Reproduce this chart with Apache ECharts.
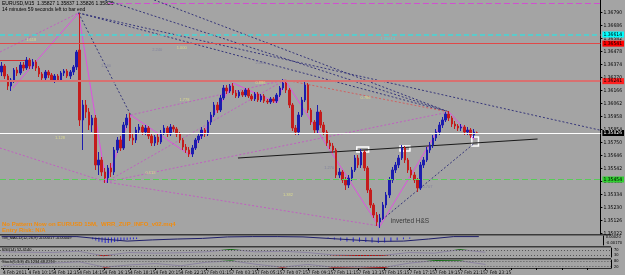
<!DOCTYPE html>
<html><head><meta charset="utf-8">
<script src="https://cdn.jsdelivr.net/npm/echarts@6/dist/echarts.min.js"></script>
<style>html,body{margin:0;padding:0;background:#a4a4a4;overflow:hidden}#c{width:625px;height:275px}</style>
</head><body><div id="c"></div><script>
// ---- data (EURUSD M15) ----
const timeLabels = ['4 Feb 2011','4 Feb 10:15','4 Feb 12:15','4 Feb 14:15','4 Feb 16:15','4 Feb 18:15','4 Feb 20:15','4 Feb 22:15','7 Feb 01:15','7 Feb 03:15','7 Feb 05:15','7 Feb 07:15','7 Feb 09:15','7 Feb 11:15','7 Feb 13:15','7 Feb 15:15','7 Feb 17:15','7 Feb 19:15','7 Feb 21:15','7 Feb 23:15'];
const priceTicks = [1.36790,1.36686,1.36582,1.36478,1.36374,1.36270,1.36166,1.36062,1.35958,1.35854,1.35750,1.35646,1.35542,1.35438,1.35334,1.35230,1.35126,1.35022];
const openP = [1.36314,1.36362,1.36282,1.36202,1.36250,1.36330,1.36306,1.36370,1.36346,1.36410,
1.36362,1.36394,1.36346,1.36298,1.36266,1.36314,1.36290,1.36250,1.36282,1.36250,
1.36306,1.36322,1.36282,1.36314,1.36354,1.36490,1.35930,1.36050,1.35994,1.35890,
1.35946,1.35570,1.35610,1.35514,1.35466,1.35546,1.35514,1.35690,1.35770,1.35706,
1.35890,1.35946,1.35786,1.35770,1.35850,1.35874,1.35834,1.35866,1.35802,1.35746,
1.35794,1.35754,1.35826,1.35866,1.35818,1.35874,1.35858,1.35818,1.35770,1.35714,
1.35690,1.35658,1.35706,1.35770,1.35802,1.35850,1.35818,1.35914,1.35970,1.36050,
1.36010,1.36106,1.36186,1.36162,1.36202,1.36146,1.36122,1.36154,1.36130,1.36170,
1.36122,1.36098,1.36138,1.36090,1.36122,1.36082,1.36074,1.36098,1.36082,1.36130,
1.36186,1.36226,1.36170,1.36050,1.35866,1.35834,1.35970,1.36090,1.36210,1.36010,
1.35914,1.35850,1.35994,1.35890,1.35834,1.35746,1.35722,1.35690,1.35490,1.35514,
1.35450,1.35410,1.35466,1.35530,1.35626,1.35570,1.35674,1.35546,1.35370,1.35250,
1.35170,1.35114,1.35146,1.35250,1.35330,1.35450,1.35530,1.35570,1.35626,1.35706,
1.35610,1.35530,1.35490,1.35450,1.35386,1.35570,1.35610,1.35690,1.35730,1.35786,
1.35834,1.35890,1.35930,1.35978,1.35946,1.35898,1.35882,1.35866,1.35874,1.35834,
1.35850,1.35810,1.35827];
const closeP = [1.36362,1.36282,1.36202,1.36250,1.36330,1.36306,1.36370,1.36346,1.36410,1.36362,
1.36394,1.36346,1.36298,1.36266,1.36314,1.36290,1.36250,1.36282,1.36250,1.36306,
1.36322,1.36282,1.36314,1.36354,1.36474,1.35930,1.36050,1.35994,1.35890,1.35946,
1.35570,1.35610,1.35514,1.35466,1.35546,1.35514,1.35690,1.35770,1.35706,1.35890,
1.35946,1.35786,1.35770,1.35850,1.35874,1.35834,1.35866,1.35802,1.35746,1.35794,
1.35754,1.35826,1.35866,1.35818,1.35874,1.35858,1.35818,1.35770,1.35714,1.35690,
1.35658,1.35706,1.35770,1.35802,1.35850,1.35818,1.35914,1.35970,1.36050,1.36010,
1.36106,1.36186,1.36162,1.36202,1.36146,1.36122,1.36154,1.36130,1.36170,1.36122,
1.36098,1.36138,1.36090,1.36122,1.36082,1.36074,1.36098,1.36082,1.36130,1.36186,
1.36226,1.36170,1.36050,1.35866,1.35834,1.35970,1.36090,1.36210,1.36010,1.35914,
1.35850,1.35994,1.35890,1.35834,1.35746,1.35722,1.35690,1.35490,1.35514,1.35450,
1.35410,1.35466,1.35530,1.35626,1.35570,1.35674,1.35546,1.35370,1.35250,1.35170,
1.35114,1.35146,1.35250,1.35330,1.35450,1.35530,1.35570,1.35626,1.35706,1.35610,
1.35530,1.35490,1.35450,1.35386,1.35570,1.35610,1.35690,1.35730,1.35786,1.35834,
1.35890,1.35930,1.35978,1.35946,1.35898,1.35882,1.35866,1.35874,1.35834,1.35850,
1.35810,1.35834,1.35826];
const lowP = [1.36282,1.36258,1.36170,1.36162,1.36226,1.36282,1.36290,1.36322,1.36330,1.36338,
1.36338,1.36322,1.36274,1.36242,1.36250,1.36266,1.36234,1.36226,1.36234,1.36234,
1.36282,1.36266,1.36258,1.36290,1.36330,1.35882,1.35690,1.35946,1.35850,1.35834,
1.35530,1.35490,1.35482,1.35426,1.35426,1.35474,1.35490,1.35666,1.35682,1.35690,
1.35866,1.35762,1.35730,1.35746,1.35826,1.35810,1.35810,1.35778,1.35722,1.35722,
1.35730,1.35738,1.35810,1.35794,1.35802,1.35834,1.35794,1.35746,1.35690,1.35666,
1.35634,1.35634,1.35690,1.35746,1.35778,1.35794,1.35802,1.35890,1.35954,1.35986,
1.35994,1.36090,1.36138,1.36146,1.36130,1.36106,1.36106,1.36114,1.36114,1.36106,
1.36082,1.36082,1.36074,1.36074,1.36066,1.36058,1.36058,1.36066,1.36066,1.36114,
1.36170,1.36146,1.36026,1.35842,1.35810,1.35810,1.35954,1.36074,1.35986,1.35890,
1.35818,1.35826,1.35866,1.35810,1.35722,1.35698,1.35666,1.35466,1.35466,1.35426,
1.35370,1.35386,1.35442,1.35514,1.35546,1.35546,1.35522,1.35346,1.35226,1.35146,
1.35082,1.35066,1.35130,1.35226,1.35306,1.35426,1.35506,1.35546,1.35610,1.35586,
1.35506,1.35466,1.35426,1.35354,1.35370,1.35546,1.35594,1.35666,1.35706,1.35762,
1.35810,1.35866,1.35914,1.35922,1.35874,1.35858,1.35842,1.35842,1.35810,1.35810,
1.35786,1.35786,1.35826];
const highP = [1.36394,1.36378,1.36298,1.36266,1.36346,1.36354,1.36394,1.36394,1.36434,1.36426,
1.36418,1.36410,1.36362,1.36314,1.36330,1.36330,1.36306,1.36298,1.36298,1.36322,
1.36338,1.36338,1.36330,1.36370,1.36490,1.36786,1.36090,1.36090,1.36026,1.35970,
1.35970,1.35674,1.35634,1.35546,1.35570,1.35586,1.35714,1.35794,1.35802,1.35914,
1.35978,1.35986,1.35818,1.35874,1.35898,1.35890,1.35890,1.35882,1.35818,1.35810,
1.35818,1.35850,1.35890,1.35882,1.35898,1.35890,1.35874,1.35834,1.35786,1.35738,
1.35714,1.35730,1.35786,1.35826,1.35874,1.35866,1.35930,1.35994,1.36074,1.36074,
1.36130,1.36210,1.36210,1.36218,1.36226,1.36170,1.36170,1.36170,1.36186,1.36186,
1.36138,1.36154,1.36154,1.36138,1.36138,1.36098,1.36114,1.36114,1.36146,1.36202,
1.36258,1.36242,1.36186,1.36066,1.35890,1.35994,1.36114,1.36250,1.36226,1.36026,
1.35930,1.36050,1.36010,1.35914,1.35850,1.35770,1.35746,1.35706,1.35546,1.35530,
1.35474,1.35490,1.35554,1.35650,1.35650,1.35698,1.35690,1.35562,1.35386,1.35266,
1.35194,1.35178,1.35274,1.35354,1.35474,1.35554,1.35594,1.35650,1.35730,1.35722,
1.35626,1.35554,1.35514,1.35466,1.35594,1.35634,1.35714,1.35754,1.35810,1.35858,
1.35914,1.35954,1.35994,1.36002,1.35962,1.35922,1.35898,1.35898,1.35890,1.35874,
1.35866,1.35858,1.35837];
// horizontal level lines (price)
const levelPP = 1.36866, levelCyan = 1.36614, levelRed1 = 1.36541, levelRed2 = 1.36241, levelWhite = 1.35826, levelGreen = 1.35454;
const ppStartIdx = 34;
// zigzag pivots (bar index, price)
const zigzagIdx = [3.6, 24.6, 33.4, 41.3, 60.2, 74.0, 88.1, 90.6, 120.8, 143.1, 151.3];
const zigzagPrice = [1.36186, 1.36786, 1.35434, 1.35970, 1.35650, 1.36226, 1.36066, 1.36250, 1.35074, 1.35994, 1.35770];
// trend lines: [idx1, price1, idx2, price2]
const navyLines = [[24.6,1.36786,143.1,1.35994],[33.1,1.36890,143.1,1.35994],[48.8,1.36890,143.1,1.35994],[24.6,1.36786,191.2,1.35850],[24.6,1.36786,41.3,1.35970],[120.8,1.35114,151.3,1.35746]];
const pinkLines = [[-0.5,1.36474,24.6,1.36786],[-0.5,1.35706,33.4,1.35434],[33.4,1.35434,90.6,1.36250],[33.4,1.35434,120.8,1.35082],[41.3,1.35970,90.6,1.36250],[33.4,1.35434,143.1,1.35994]];
const salmonLines = [[90.6,1.36250,143.1,1.35994]];
const redMarker = [[-0.5,1.36410,8.0,1.36410],[8.0,1.36410,8.0,1.36370]];
const neckline = [75.6,1.35626,171.4,1.35778];
const boxes = [[113.6,1.35714,117.4,1.35674],[127.4,1.35722,130.6,1.35682],[150.4,1.35794,152.5,1.35722]];
// small ratio labels on the pattern lines: [idx, price, text]
const ratioLabels = [[9.5,1.36570,'1.618'],[57.6,1.36506,'1.000'],[58.5,1.36090,'1.778'],[18.7,1.35786,'1.128'],[47.6,1.35506,'0.618'],[82.8,1.36226,'0.886'],[116.4,1.36106,'0.786'],[91.6,1.35330,'1.382']];
const grayLabels = [[49.8,1.36490,'2.240'],[33.4,1.36362,'1.440'],[82.8,1.36386,'2.000'],[104.8,1.35546,'1.270'],[136.2,1.35394,'0.707']];
const cyanLabels = [[123.5,1.36580,'1.36614']];
// indicators sampled every 8 bars
const indIdx = [0,8,16,24,32,40,48,56,64,72,80,88,96,104,112,120,128,136,144,152];
const macdSignal = [0.0003,0.0003,0.0003,0.0003,-0.0005,-0.0012,-0.0008,-0.0005,-0.0003,0.0002,0.0003,0.0003,0.0002,-0.0003,-0.0008,-0.0013,-0.0012,-0.0005,0.0003,0.0003];
const macdHistIdx = [29,30,31,32,33,34,35,36,37,38,39,40,41,42,43,104,106,108,110,112,114,116,118,120,122,124,126,128,130];
const macdHistVal = [-0.0006,-0.0010,-0.0014,-0.0016,-0.0018,-0.0018,-0.0017,-0.0015,-0.0013,-0.0011,-0.0009,-0.0008,-0.0007,-0.0006,-0.0005,-0.0003,-0.0007,-0.0011,-0.0013,-0.0015,-0.0014,-0.0015,-0.0017,-0.0018,-0.0017,-0.0013,-0.0009,-0.0006,-0.0004];
const rsiVals = [55,52,50,60,25,50,45,48,55,73,55,60,50,32,27,28,50,45,72,52];
const stochVals = [35,50,60,75,15,40,55,30,70,85,45,15,45,15,20,12,60,88,85,45];

// ---- chart ----
const chart = echarts.init(document.getElementById('c'), null, {renderer: 'canvas'});
const N = 192;
const categories = Array.from({length: N}, (_, k) => (k % 8 === 0 && k / 8 < timeLabels.length) ? timeLabels[k / 8] : '');
const candleData = openP.map((o, i) => [o, closeP[i], lowP[i], highP[i]]);
const FONT = 'Liberation Sans';
const NARROW = "'Liberation Sans Narrow','DejaVu Sans Condensed','Liberation Sans'";
const seg = arr => arr.map(s => ({coords: [[s[0], s[1]], [s[2], s[3]]]}));
const pairs = (xs, ys) => xs.map((x, i) => [x, ys[i]]);

function lvl(v, color, type, width, boxColor, txtColor) {
  return {yAxis: v, lineStyle: {color: color, type: type, width: width, opacity: width > 0 ? 1 : 0},
    label: {show: true, position: 'end', distance: 2, formatter: v.toFixed(5), color: txtColor, backgroundColor: boxColor, fontSize: 5, fontFamily: NARROW, padding: [1, 2, 0, 1]}};
}
function textPts(arr, color) {
  return arr.map(t => ({value: [t[0], t[1]], label: {show: true, position: 'inside', formatter: t[2], color: color, fontSize: 4, fontFamily: FONT}}));
}

const option = {
  backgroundColor: '#a4a4a4',
  animation: false,
  grid: [
    {left: 0, right: 14, top: 0, height: 234},
    {left: 0, right: 14, top: 236, height: 9},
    {left: 0, right: 14, top: 248, height: 9},
    {left: 0, right: 14, top: 260, height: 8}
  ],
  xAxis: [
    {type: 'category', gridIndex: 0, data: categories, boundaryGap: true, axisLine: {show: false}, axisTick: {show: false}, axisLabel: {show: false}, splitLine: {show: false}},
    {type: 'value', gridIndex: 0, min: -0.5, max: N - 0.5, show: false},
    {type: 'value', gridIndex: 1, min: -0.5, max: N - 0.5, show: false},
    {type: 'value', gridIndex: 2, min: -0.5, max: N - 0.5, show: false},
    {type: 'value', gridIndex: 3, min: -0.5, max: N - 0.5, show: false},
    {type: 'category', gridIndex: 3, data: categories, boundaryGap: true, position: 'bottom',
      axisLine: {show: true, lineStyle: {color: '#2a2a2a', width: 1}},
      axisTick: {show: true, interval: 7, alignWithLabel: true, length: 2, lineStyle: {color: '#000'}},
      axisLabel: {show: true, interval: 7, align: 'left', margin: 2, fontSize: 4.8, fontFamily: NARROW, color: '#000'}}
  ],
  yAxis: [
    {type: 'value', gridIndex: 0, position: 'right', min: 1.35018, max: 1.36890,
      axisLine: {show: true, onZero: false, lineStyle: {color: '#000'}},
      axisTick: {show: true, length: 2, customValues: priceTicks, lineStyle: {color: '#000'}},
      axisLabel: {show: true, customValues: priceTicks, fontSize: 5, fontFamily: NARROW, color: '#000', margin: 3, formatter: v => v.toFixed(5)},
      splitLine: {show: false}},
    {type: 'value', gridIndex: 1, position: 'right', min: -0.0025, max: 0.0005,
      axisLine: {show: true, onZero: false, lineStyle: {color: '#000'}}, axisTick: {show: false},
      axisLabel: {show: true, customValues: [0.0002, -0.0017], fontSize: 4, fontFamily: NARROW, color: '#000', margin: 3, formatter: v => v.toFixed(5)}, splitLine: {show: false}},
    {type: 'value', gridIndex: 2, position: 'right', min: 15, max: 85,
      axisLine: {show: true, onZero: false, lineStyle: {color: '#000'}}, axisTick: {show: false},
      axisLabel: {show: true, customValues: [70, 30], fontSize: 4, fontFamily: NARROW, color: '#000', margin: 3}, splitLine: {show: false}},
    {type: 'value', gridIndex: 3, position: 'right', min: 5, max: 95,
      axisLine: {show: true, onZero: false, lineStyle: {color: '#000'}}, axisTick: {show: false},
      axisLabel: {show: true, customValues: [80, 20], fontSize: 4, fontFamily: NARROW, color: '#000', margin: 3}, splitLine: {show: false}}
  ],
  visualMap: [
    {show: false, type: 'piecewise', seriesIndex: 10, dimension: 1, pieces: [{lt: 30, color: '#b00000'}, {gte: 30, lte: 70, color: '#8c84a0'}, {gt: 70, color: '#006400'}]},
    {show: false, type: 'piecewise', seriesIndex: 11, dimension: 1, pieces: [{lt: 20, color: '#b00000'}, {gte: 20, lte: 80, color: '#8c84a0'}, {gt: 80, color: '#006400'}]}
  ],
  series: [
    // 0 PP dashed segment + small red marker
    {type: 'lines', coordinateSystem: 'cartesian2d', xAxisIndex: 1, yAxisIndex: 0, silent: true,
      lineStyle: {color: '#d050d0', width: 1, type: [6, 3], opacity: 1},
      data: seg([[ppStartIdx, levelPP, N - 0.5, levelPP]]).concat(seg(redMarker).map(d => Object.assign(d, {lineStyle: {color: '#d03030', type: 'solid', width: 1}})))},
    // 1 pink dotted
    {type: 'lines', coordinateSystem: 'cartesian2d', xAxisIndex: 1, yAxisIndex: 0, silent: true,
      lineStyle: {color: '#c060c0', width: 1, type: [2, 2], opacity: 1}, data: seg(pinkLines)},
    // 2 navy dotted
    {type: 'lines', coordinateSystem: 'cartesian2d', xAxisIndex: 1, yAxisIndex: 0, silent: true,
      lineStyle: {color: '#36367a', width: 1, type: [2, 2], opacity: 1}, data: seg(navyLines)},
    // 3 salmon dotted
    {type: 'lines', coordinateSystem: 'cartesian2d', xAxisIndex: 1, yAxisIndex: 0, silent: true,
      lineStyle: {color: '#d06060', width: 1, type: [2, 2], opacity: 1}, data: seg(salmonLines)},
    // 4 neckline
    {type: 'lines', coordinateSystem: 'cartesian2d', xAxisIndex: 1, yAxisIndex: 0, silent: true,
      lineStyle: {color: '#1a1a1a', width: 1.2, opacity: 1}, data: seg([neckline])},
    // 5 zigzag + level lines
    {type: 'line', xAxisIndex: 1, yAxisIndex: 0, data: pairs(zigzagIdx, zigzagPrice), symbol: 'none', silent: true,
      lineStyle: {color: '#e050e0', width: 1}, z: 1,
      markLine: {symbol: 'none', silent: true, animation: false, precision: 5, data: [
        lvl(levelPP, '#d050d0', 'solid', 0, '#e040e0', '#000'),
        lvl(levelCyan, '#40d8d8', [5, 3], 1.5, '#00ffff', '#000'),
        lvl(levelRed1, '#e04848', 'solid', 1.2, '#ff0000', '#000'),
        lvl(levelRed2, '#d87070', 'solid', 2, '#ff2020', '#000'),
        lvl(levelWhite, '#ffffff', 'solid', 1.2, '#000000', '#fff'),
        lvl(levelGreen, '#58cc58', [6, 3], 1, '#30d030', '#000')
      ]}},
    // 6 candles
    {type: 'candlestick', xAxisIndex: 0, yAxisIndex: 0, data: candleData, barWidth: 2, z: 3,
      itemStyle: {color: '#1c1cae', color0: '#c41c1c', borderColor: '#1c1cae', borderColor0: '#c41c1c', borderWidth: 1}},
    // 7 boxes
    {type: 'scatter', xAxisIndex: 1, yAxisIndex: 0, data: [[0, 1.36]], symbolSize: 0, silent: true,
      markArea: {silent: true, itemStyle: {color: 'rgba(0,0,0,0)', borderColor: '#ffffff', borderWidth: 1.5},
        data: boxes.map(b => [{coord: [b[0], b[1]]}, {coord: [b[2], b[3]]}])}},
    // 8 macd histogram
    {type: 'bar', xAxisIndex: 2, yAxisIndex: 1, data: pairs(macdHistIdx, macdHistVal), barWidth: 1, itemStyle: {color: '#2a2ad0'}},
    // 9 macd signal
    {type: 'line', xAxisIndex: 2, yAxisIndex: 1, data: pairs(indIdx, macdSignal), symbol: 'none', lineStyle: {color: '#20206a', width: 1}},
    // 10 rsi
    {type: 'line', xAxisIndex: 3, yAxisIndex: 2, data: pairs(indIdx, rsiVals), symbol: 'none', lineStyle: {width: 1},
      markLine: {symbol: 'none', silent: true, label: {show: false}, lineStyle: {color: '#555', type: [1, 2], width: 1}, data: [{yAxis: 70}, {yAxis: 30}]}},
    // 11 stoch
    {type: 'line', xAxisIndex: 4, yAxisIndex: 3, data: pairs(indIdx, stochVals), symbol: 'none', lineStyle: {width: 1},
      markLine: {symbol: 'none', silent: true, label: {show: false}, lineStyle: {color: '#555', type: [1, 2], width: 1}, data: [{yAxis: 80}, {yAxis: 20}]}},
    // 12 text annotations
    {type: 'scatter', xAxisIndex: 1, yAxisIndex: 0, symbolSize: 0, silent: true, z: 5,
      data: [{value: [124.5, 1.35120], label: {show: true, position: 'right', distance: 0, formatter: 'inverted H&S', color: '#1a1a1a', fontSize: 6.5, fontFamily: FONT}}]
        .concat(textPts(ratioLabels, '#e6e68c')).concat(textPts(grayLabels, '#7c7c9c')).concat(textPts(cyanLabels, '#40e8e8'))}
  ],
  graphic: [
    {type: 'text', left: 2, top: 1, style: {text: 'EURUSD,M15  1.35827 1.35837 1.35826 1.35826', fontSize: 5, fontFamily: FONT, fill: '#000'}},
    {type: 'text', left: 2, top: 7, style: {text: '14 minutes 59 seconds left to bar end', fontSize: 5, fontFamily: FONT, fill: '#000'}},
    {type: 'text', left: 2, top: 221, style: {text: 'No Pattern Now on EURUSD 15M,  WRR_ZUP_INFO_v02.mq4', fontSize: 6, fontWeight: 'bold', fontFamily: FONT, fill: '#f08c10'}},
    {type: 'text', left: 2, top: 227, style: {text: 'Entry Risk: N/A', fontSize: 6, fontWeight: 'bold', fontFamily: FONT, fill: '#f08c10'}},
    {type: 'text', left: 2, top: 236, style: {text: '#M_MACD(12,26,9) -0.00017 -0.00049', fontSize: 4, fontFamily: FONT, fill: '#000'}},
    {type: 'text', left: 2, top: 248, style: {text: 'RSI(14) 52.4140', fontSize: 4, fontFamily: FONT, fill: '#000'}},
    {type: 'text', left: 2, top: 260, style: {text: 'Stoch(5,3,3) 45.1234 48.2210', fontSize: 4, fontFamily: FONT, fill: '#000'}},
    {type: 'rect', left: 0, top: 234, shape: {width: 611, height: 1.5}, style: {fill: '#3a3a3a'}},
    {type: 'rect', left: 0, top: 246, shape: {width: 611, height: 1.5}, style: {fill: '#3a3a3a'}},
    {type: 'rect', left: 0, top: 258, shape: {width: 611, height: 1.5}, style: {fill: '#3a3a3a'}}
  ]
};
chart.setOption(option);
</script></body></html>
